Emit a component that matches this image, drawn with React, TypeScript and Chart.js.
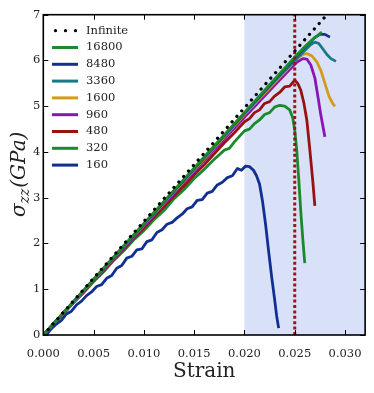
import React, { useEffect, useRef } from "react";
import { Chart, registerables } from "chart.js";

Chart.register(...registerables);

// ---------- data ----------
const xTicks = [0, 0.005, 0.01, 0.015, 0.02, 0.025, 0.03];
const yTicks = [0, 1, 2, 3, 4, 5, 6, 7];
const xRange = [0, 0.032];
const yRange = [0, 7];
const shadeRange = [0.02, 0.032];

const infiniteStrain = [0, 0.0282];
const infiniteStress = [0, 7.0];

const cutoffStrain = [0.025, 0.025];
const cutoffStress = [0, 7];

const seriesLabels = ["16800", "8480", "3360", "1600", "960", "480", "320", "160"];
const seriesColors = ["#1d8a2e", "#1a2f8c", "#167a86", "#d39b1e", "#8a14b4", "#991111", "#198a2b", "#102f90"];

const strain16800 = [0, 0.004, 0.008, 0.012, 0.016, 0.02, 0.023, 0.025, 0.026, 0.027, 0.0277];
const stress16800 = [0, 0.97, 1.95, 2.92, 3.89, 4.86, 5.59, 6.07, 6.3, 6.5, 6.62];

const strain8480 = [0, 0.004, 0.008, 0.012, 0.016, 0.02, 0.023, 0.025, 0.026, 0.027, 0.0275, 0.028, 0.0285];
const stress8480 = [0, 0.97, 1.94, 2.91, 3.88, 4.85, 5.57, 6.05, 6.29, 6.5, 6.57, 6.57, 6.51];

const strain3360 = [0, 0.004, 0.008, 0.012, 0.016, 0.02, 0.023, 0.025, 0.026, 0.0266, 0.027, 0.0274, 0.0278, 0.0282, 0.0286, 0.0291];
const stress3360 = [0, 0.97, 1.94, 2.9, 3.87, 4.84, 5.55, 6.0, 6.22, 6.35, 6.4, 6.37, 6.25, 6.13, 6.04, 5.98];

const strain1600 = [0, 0.004, 0.008, 0.012, 0.016, 0.02, 0.023, 0.0245, 0.0252, 0.0258, 0.0262, 0.0267, 0.0272, 0.0276, 0.028, 0.0284, 0.0288, 0.029];
const stress1600 = [0, 0.96, 1.93, 2.89, 3.85, 4.82, 5.52, 5.86, 6.04, 6.13, 6.15, 6.1, 5.97, 5.78, 5.5, 5.22, 5.05, 5.0];

const strain960 = [0, 0.004, 0.008, 0.012, 0.016, 0.02, 0.023, 0.0245, 0.0252, 0.0258, 0.0262, 0.0266, 0.027, 0.0273, 0.0276, 0.028];
const stress960 = [0, 0.95, 1.9, 2.86, 3.81, 4.76, 5.46, 5.8, 5.96, 6.04, 6.03, 5.9, 5.62, 5.22, 4.8, 4.33];

const strain480 = [0, 0.001, 0.002, 0.003, 0.004, 0.005, 0.006, 0.007, 0.008, 0.009, 0.01, 0.011, 0.012, 0.013, 0.014, 0.015, 0.016, 0.017, 0.018, 0.019, 0.02, 0.0205, 0.021, 0.0215, 0.022, 0.0225, 0.023, 0.0235, 0.024, 0.0245, 0.025, 0.0253, 0.0256, 0.0259, 0.0262, 0.0265, 0.0268, 0.027];
const stress480 = [0, 0.24, 0.47, 0.71, 0.94, 1.18, 1.41, 1.65, 1.88, 2.12, 2.34, 2.58, 2.8, 3.04, 3.26, 3.5, 3.72, 3.96, 4.2, 4.42, 4.66, 4.73, 4.86, 4.92, 5.06, 5.1, 5.22, 5.3, 5.42, 5.44, 5.57, 5.5, 5.35, 5.08, 4.7, 4.05, 3.35, 2.82];

const strain320 = [0, 0.001, 0.002, 0.003, 0.004, 0.005, 0.006, 0.007, 0.008, 0.009, 0.01, 0.011, 0.012, 0.013, 0.014, 0.015, 0.016, 0.017, 0.018, 0.0185, 0.019, 0.0195, 0.02, 0.0205, 0.021, 0.0215, 0.022, 0.0225, 0.023, 0.0235, 0.024, 0.0245, 0.0248, 0.025, 0.0252, 0.0254, 0.0256, 0.0258, 0.026];
const stress320 = [0, 0.24, 0.46, 0.71, 0.92, 1.17, 1.38, 1.63, 1.84, 2.08, 2.28, 2.52, 2.72, 2.98, 3.18, 3.42, 3.62, 3.84, 4.04, 4.08, 4.22, 4.34, 4.46, 4.5, 4.62, 4.7, 4.82, 4.86, 4.98, 5.02, 5.0, 4.92, 4.75, 4.48, 4.04, 3.4, 2.7, 2.1, 1.57];

const strain160 = [0.0003, 0.0008, 0.0013, 0.0018, 0.0023, 0.0028, 0.0033, 0.0038, 0.0043, 0.0048, 0.0053, 0.0058, 0.0063, 0.0068, 0.0073, 0.0078, 0.0083, 0.0088, 0.0093, 0.0098, 0.0103, 0.0108, 0.0113, 0.0118, 0.0123, 0.0128, 0.0133, 0.0138, 0.0143, 0.0148, 0.0153, 0.0158, 0.0163, 0.0168, 0.0173, 0.0178, 0.0183, 0.0188, 0.0193, 0.0197, 0.0201, 0.0205, 0.0209, 0.0212, 0.0215, 0.0218, 0.0221, 0.0224, 0.0227, 0.023, 0.0232, 0.0234];
const stress160 = [0, 0.14, 0.24, 0.32, 0.46, 0.52, 0.66, 0.74, 0.86, 0.94, 1.06, 1.1, 1.24, 1.3, 1.46, 1.52, 1.68, 1.72, 1.86, 1.88, 2.04, 2.08, 2.24, 2.3, 2.42, 2.46, 2.56, 2.64, 2.76, 2.8, 2.94, 2.96, 3.1, 3.14, 3.28, 3.34, 3.44, 3.48, 3.64, 3.6, 3.69, 3.68, 3.6, 3.48, 3.3, 2.92, 2.42, 1.84, 1.28, 0.78, 0.42, 0.15];

const seriesStrain = [strain16800, strain8480, strain3360, strain1600, strain960, strain480, strain320, strain160];
const seriesStress = [stress16800, stress8480, stress3360, stress1600, stress960, stress480, stress320, stress160];

const FONT = "'DejaVu Serif', 'Liberation Serif', serif";
const TEXT = "#222222";

const toPts = (xs: number[], ys: number[]) => xs.map((x, i) => ({ x, y: ys[i] }));

const shadePlugin = {
  id: "shade",
  beforeDatasetsDraw(chart: any) {
    const { ctx, chartArea, scales } = chart;
    const x0 = scales.x.getPixelForValue(shadeRange[0]);
    const x1 = scales.x.getPixelForValue(shadeRange[1]);
    ctx.save();
    ctx.fillStyle = "rgb(217,225,249)";
    ctx.fillRect(x0, chartArea.top, x1 - x0, chartArea.bottom - chartArea.top);
    ctx.restore();
  },
};

const framePlugin = {
  id: "frame",
  afterDatasetsDraw(chart: any) {
    const { ctx, chartArea: ca, scales } = chart;
    ctx.save();
    ctx.strokeStyle = "#000";
    ctx.lineWidth = 1;
    const tl = 5;
    ctx.beginPath();
    xTicks.forEach((v) => {
      const px = Math.round(scales.x.getPixelForValue(v)) + 0.5;
      ctx.moveTo(px, ca.bottom);
      ctx.lineTo(px, ca.bottom - tl);
      ctx.moveTo(px, ca.top);
      ctx.lineTo(px, ca.top + tl);
    });
    yTicks.forEach((v) => {
      const py = Math.round(scales.y.getPixelForValue(v)) + 0.5;
      ctx.moveTo(ca.left, py);
      ctx.lineTo(ca.left + tl, py);
      ctx.moveTo(ca.right, py);
      ctx.lineTo(ca.right - tl, py);
    });
    ctx.stroke();
    ctx.lineWidth = 1.6;
    ctx.strokeRect(ca.left, ca.top, ca.right - ca.left, ca.bottom - ca.top);
    ctx.restore();
  },
};

const annotPlugin = {
  id: "annot",
  afterDraw(chart: any) {
    const { ctx, chartArea: ca } = chart;
    ctx.save();
    // legend
    const rowY0 = 30.7;
    const rowH = 16.8;
    const lx0 = 52;
    const lx1 = 78;
    const tx = 86;
    ctx.font = `11.5px ${FONT}`;
    ctx.textBaseline = "middle";
    ctx.textAlign = "left";
    ctx.fillStyle = "#000";
    [55.5, 65.5, 75.5].forEach((dx) => {
      ctx.beginPath();
      ctx.arc(dx, rowY0, 1.6, 0, Math.PI * 2);
      ctx.fill();
    });
    ctx.fillStyle = TEXT;
    ctx.fillText("Infinite", tx, rowY0);
    seriesLabels.forEach((lab, i) => {
      const y = rowY0 + rowH * (i + 1);
      ctx.strokeStyle = seriesColors[i];
      ctx.lineWidth = 3;
      ctx.lineCap = "butt";
      ctx.beginPath();
      ctx.moveTo(lx0, y);
      ctx.lineTo(lx1, y);
      ctx.stroke();
      ctx.fillStyle = TEXT;
      ctx.fillText(lab, tx, y);
    });
    // y axis title
    const cy = (ca.top + ca.bottom) / 2;
    ctx.translate(24.5, cy);
    ctx.rotate(-Math.PI / 2);
    ctx.textBaseline = "alphabetic";
    const parts = [
      { t: "σ", size: 20, dy: 0 },
      { t: "zz", size: 14, dy: 4 },
      { t: "(GPa)", size: 20, dy: 0 },
    ];
    let total = 0;
    const widths = parts.map((p) => {
      ctx.font = `italic ${p.size}px ${FONT}`;
      const w = ctx.measureText(p.t).width;
      total += w;
      return w;
    });
    let x = -total / 2;
    parts.forEach((p, i) => {
      ctx.font = `italic ${p.size}px ${FONT}`;
      ctx.fillStyle = TEXT;
      ctx.fillText(p.t, x, p.dy);
      x += widths[i] + (i === 1 ? 1 : 0);
    });
    ctx.restore();
  },
};

export default function App() {
  const ref = useRef<HTMLCanvasElement | null>(null);
  useEffect(() => {
    if (!ref.current) return;
    const datasets: any[] = [
      {
        label: "Infinite",
        data: toPts(infiniteStrain, infiniteStress),
        borderColor: "#000",
        borderWidth: 3.2,
        borderDash: [0.1, 7.2],
        borderCapStyle: "round",
        pointRadius: 0,
        fill: false,
      },
      {
        label: "cutoff",
        data: toPts(cutoffStrain, cutoffStress),
        borderColor: "#9b1515",
        borderWidth: 3,
        borderDash: [3, 2.4],
        borderCapStyle: "butt",
        pointRadius: 0,
        fill: false,
      },
    ];
    seriesLabels.forEach((lab, i) => {
      datasets.push({
        label: lab,
        data: toPts(seriesStrain[i], seriesStress[i]),
        borderColor: seriesColors[i],
        borderWidth: 2.8,
        borderJoinStyle: "round",
        pointRadius: 0,
        tension: 0,
        fill: false,
      });
    });
    const chart = new Chart(ref.current, {
      type: "line",
      data: { datasets },
      options: {
        animation: false,
        responsive: false,
        devicePixelRatio: 1,
        events: [],
        layout: { padding: { left: 0, right: 8.3, top: 14.7, bottom: 0 } },
        plugins: { legend: { display: false }, tooltip: { enabled: false } },
        scales: {
          x: {
            type: "linear",
            min: xRange[0],
            max: xRange[1],
            afterFit: (s: any) => {
              s.height = 58;
            },
            afterBuildTicks: (s: any) => {
              s.ticks = xTicks.map((v) => ({ value: v }));
            },
            ticks: {
              callback: (v: any) => Number(v).toFixed(3),
              font: { family: FONT, size: 11.5 },
              color: TEXT,
              padding: 12,
              maxRotation: 0,
              autoSkip: false,
            },
            grid: { display: false, drawTicks: false },
            border: { display: false },
            title: {
              display: true,
              text: "Strain",
              font: { family: FONT, size: 20 },
              color: TEXT,
              padding: { top: 0, bottom: 9 },
            },
          },
          y: {
            type: "linear",
            min: yRange[0],
            max: yRange[1],
            afterFit: (s: any) => {
              s.width = 43.3;
            },
            afterBuildTicks: (s: any) => {
              s.ticks = yTicks.map((v) => ({ value: v }));
            },
            ticks: {
              callback: (v: any) => String(v),
              font: { family: FONT, size: 11.5 },
              color: TEXT,
              padding: 3,
              autoSkip: false,
            },
            grid: { display: false, drawTicks: false },
            border: { display: false },
          },
        },
      },
      plugins: [shadePlugin, framePlugin, annotPlugin],
    });
    return () => chart.destroy();
  }, []);
  return (
    <div style={{ position: "fixed", left: 0, top: 0, width: 374, height: 393, background: "#fff" }}>
      <canvas ref={ref} width={374} height={393} style={{ display: "block", width: 374, height: 393 }} />
    </div>
  );
}
